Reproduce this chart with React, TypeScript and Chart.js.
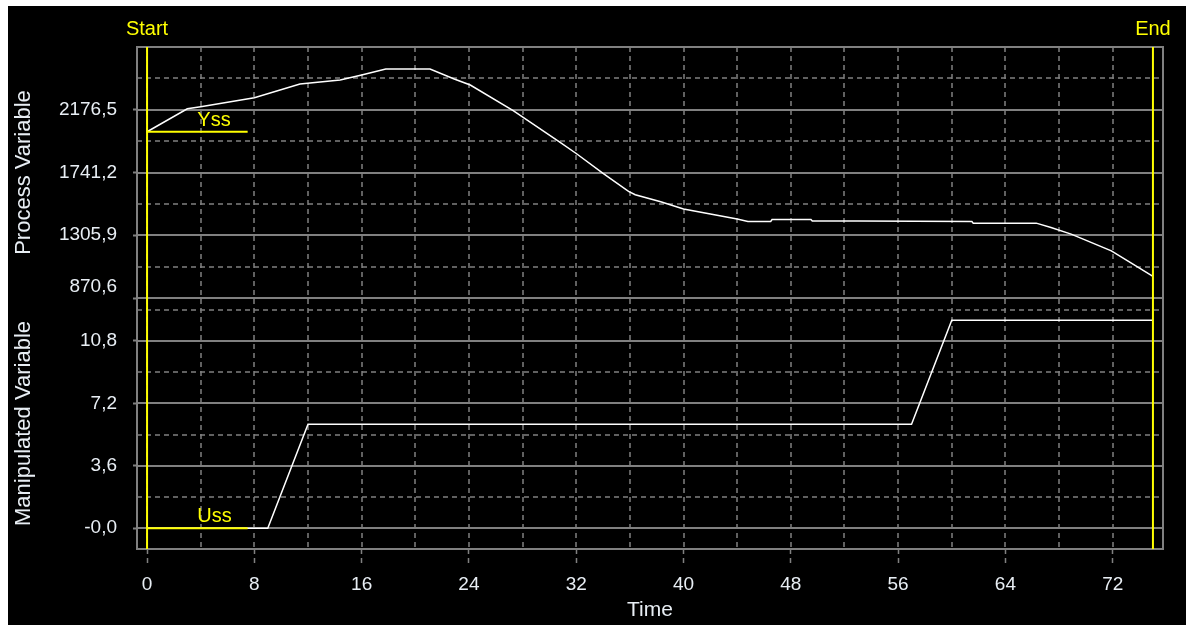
import React, { useEffect, useRef } from 'react';
import { Chart, registerables } from 'chart.js';

Chart.register(...registerables);

// ---- data ----
const TIME_PV = [0, 3, 4, 8, 11.4, 14.4, 16, 17.8, 21.1, 22.9, 24.1, 27.3, 30.8, 32, 34, 35.9, 36.4, 38.3, 40, 42, 44, 44.8, 46.5, 46.6, 49.5, 49.6, 53, 61.5, 61.6, 66.3, 67.4, 68.9, 69.8, 71.9, 73.3, 75];
const PV = [2024, 2183, 2197, 2260, 2355, 2383, 2417, 2459, 2459, 2390, 2348, 2170, 1950, 1873, 1735, 1610, 1587, 1538, 1488, 1453, 1418, 1402, 1402, 1415, 1415, 1404, 1404, 1401, 1390, 1390, 1360, 1314, 1279, 1198, 1117, 1020];

const TIME_MV = [0, 9, 12, 57, 60, 75];
const MV = [0, 0, 6, 6, 12, 12];

const YSS = 2024;
const USS = 0;
const SS_TIME = [0, 7.5];
const START_TIME = 0;
const END_TIME = 75;

const TIME_RANGE = [-0.75, 75.75];
const PV_RANGE = [870.6, 2611.8];
const MV_RANGE = [-1.2, 13.28];

const TIME_TICKS = [0, 8, 16, 24, 32, 40, 48, 56, 64, 72];
const TIME_TICK_LABELS = ['0', '8', '16', '24', '32', '40', '48', '56', '64', '72'];
const PV_TICKS = [870.6, 1305.9, 1741.2, 2176.5];
const PV_TICK_LABELS = ['870,6', '1305,9', '1741,2', '2176,5'];
const MV_TICKS = [0, 3.6, 7.2, 10.8];
const MV_TICK_LABELS = ['-0,0', '3,6', '7,2', '10,8'];

// ---- styles ----
const GRID = '#808080';
const YELLOW = '#ffff00';
const TEXT = '#e8eef4';
const FONT = "'Liberation Sans', Arial, sans-serif";

function minorValues(ticks: number[]) {
  const out: number[] = [];
  for (let i = 0; i < ticks.length - 1; i++) out.push((ticks[i] + ticks[i + 1]) / 2);
  const last = ticks[ticks.length - 1];
  out.push(last + (ticks[1] - ticks[0]) / 2);
  return out;
}

const gridPlugin = {
  id: 'dcsGrid',
  beforeDatasetsDraw(chart: any) {
    const { ctx, chartArea: a, scales } = chart;
    const x = scales.x, yP = scales.yPV, yM = scales.yMV;
    ctx.save();
    ctx.strokeStyle = GRID;
    // dashed verticals
    ctx.lineWidth = 1.5;
    ctx.setLineDash([5, 4]);
    const xs: number[] = [];
    for (let i = 0; i < TIME_TICKS.length; i++) {
      xs.push(TIME_TICKS[i]);
      if (i < TIME_TICKS.length - 1) xs.push((TIME_TICKS[i] + TIME_TICKS[i + 1]) / 2);
    }
    xs.forEach((v) => {
      const px = Math.round(x.getPixelForValue(v));
      ctx.beginPath();
      ctx.moveTo(px, a.top);
      ctx.lineTo(px, a.bottom);
      ctx.stroke();
    });
    // dashed minor horizontals
    const hline = (scale: any, v: number) => {
      const py = Math.round(scale.getPixelForValue(v));
      if (py < scale.top - 1 || py > scale.bottom + 1) return;
      ctx.beginPath();
      ctx.moveTo(a.left, py);
      ctx.lineTo(a.right, py);
      ctx.stroke();
    };
    minorValues(PV_TICKS).forEach((v) => hline(yP, v));
    minorValues(MV_TICKS).forEach((v) => hline(yM, v));
    // solid major horizontals
    ctx.setLineDash([]);
    ctx.lineWidth = 2;
    PV_TICKS.forEach((v) => hline(yP, v));
    MV_TICKS.forEach((v) => hline(yM, v));
    // frame + divider
    ctx.strokeRect(a.left, a.top, a.right - a.left, a.bottom - a.top);
    ctx.beginPath();
    ctx.moveTo(a.left, Math.round(yP.bottom));
    ctx.lineTo(a.right, Math.round(yP.bottom));
    ctx.stroke();
    ctx.restore();
  },
  afterDatasetsDraw(chart: any) {
    const { ctx, chartArea: a, scales } = chart;
    const x = scales.x, yP = scales.yPV, yM = scales.yMV;
    ctx.save();
    ctx.fillStyle = YELLOW;
    ctx.font = `20px ${FONT}`;
    ctx.textAlign = 'center';
    ctx.textBaseline = 'alphabetic';
    ctx.fillText('Start', x.getPixelForValue(START_TIME), a.top - 12);
    ctx.fillText('End', x.getPixelForValue(END_TIME), a.top - 12);
    ctx.textAlign = 'left';
    const mid = (SS_TIME[0] + SS_TIME[1]) / 2;
    ctx.fillText('Yss', x.getPixelForValue(mid), yP.getPixelForValue(YSS) - 6);
    ctx.fillText('Uss', x.getPixelForValue(mid), yM.getPixelForValue(USS) - 6);
    ctx.restore();
  },
};

function pts(xs: number[], ys: number[]) {
  return xs.map((t, i) => ({ x: t, y: ys[i] }));
}

export default function App() {
  const ref = useRef<HTMLCanvasElement | null>(null);

  useEffect(() => {
    if (!ref.current) return;
    const yellowLine = (data: any[], axis: string) => ({
      data,
      yAxisID: axis,
      borderColor: YELLOW,
      borderWidth: 2,
      pointRadius: 0,
      fill: false,
    });
    const tickFont = { family: FONT, size: 19 };
    const chart = new Chart(ref.current, {
      type: 'line',
      data: {
        datasets: [
          yellowLine([{ x: START_TIME, y: PV_RANGE[0] }, { x: START_TIME, y: PV_RANGE[1] }], 'yPV'),
          yellowLine([{ x: START_TIME, y: MV_RANGE[0] }, { x: START_TIME, y: MV_RANGE[1] }], 'yMV'),
          yellowLine([{ x: END_TIME, y: PV_RANGE[0] }, { x: END_TIME, y: PV_RANGE[1] }], 'yPV'),
          yellowLine([{ x: END_TIME, y: MV_RANGE[0] }, { x: END_TIME, y: MV_RANGE[1] }], 'yMV'),
          yellowLine(pts(SS_TIME, [YSS, YSS]), 'yPV'),
          yellowLine(pts(SS_TIME, [USS, USS]), 'yMV'),
          {
            data: pts(TIME_PV, PV),
            yAxisID: 'yPV',
            borderColor: '#ffffff',
            borderWidth: 1.5,
            pointRadius: 0,
            tension: 0,
          },
          {
            data: pts(TIME_MV, MV),
            yAxisID: 'yMV',
            borderColor: '#ffffff',
            borderWidth: 1.5,
            pointRadius: 0,
            tension: 0,
          },
        ],
      },
      options: {
        animation: false,
        responsive: false,
        devicePixelRatio: 1,
        layout: { padding: { top: 41, right: 23, bottom: 0, left: 0 } },
        plugins: { legend: { display: false }, tooltip: { enabled: false } },
        scales: {
          x: {
            type: 'linear',
            min: TIME_RANGE[0],
            max: TIME_RANGE[1],
            afterBuildTicks: (s: any) => {
              s.ticks = TIME_TICKS.map((v) => ({ value: v }));
            },
            afterFit: (s: any) => {
              s.height = 76;
            },
            grid: {
              drawOnChartArea: false,
              drawTicks: true,
              tickLength: 14,
              tickColor: GRID,
              tickWidth: 1.5,
              tickBorderDash: [5, 4],
            },
            border: { display: false },
            ticks: {
              color: TEXT,
              font: tickFont,
              padding: 10,
              maxRotation: 0,
              autoSkip: false,
              callback: (_v: any, i: number) => TIME_TICK_LABELS[i],
            },
            title: {
              display: true,
              text: 'Time',
              color: TEXT,
              font: { family: FONT, size: 21 },
              padding: { top: 0, bottom: 2 },
            },
          },
          yMV: {
            type: 'linear',
            position: 'left',
            stack: 'panels',
            stackWeight: 1,
            min: MV_RANGE[0],
            max: MV_RANGE[1],
            afterBuildTicks: (s: any) => {
              s.ticks = MV_TICKS.map((v) => ({ value: v }));
            },
            afterFit: (s: any) => {
              s.width = 129;
            },
            grid: { drawOnChartArea: false, drawTicks: true, tickLength: 4, tickColor: GRID, tickWidth: 2 },
            border: { display: false },
            ticks: {
              color: TEXT,
              font: tickFont,
              padding: 16,
              autoSkip: false,
              callback: (_v: any, i: number) => MV_TICK_LABELS[i],
            },
            title: {
              display: true,
              text: 'Manipulated Variable',
              color: TEXT,
              font: { family: FONT, size: 22 },
              padding: { top: 3, bottom: 0 },
            },
          },
          yPV: {
            type: 'linear',
            position: 'left',
            stack: 'panels',
            stackWeight: 1,
            min: PV_RANGE[0],
            max: PV_RANGE[1],
            afterBuildTicks: (s: any) => {
              s.ticks = PV_TICKS.map((v) => ({ value: v }));
            },
            afterFit: (s: any) => {
              s.width = 129;
            },
            grid: { drawOnChartArea: false, drawTicks: true, tickLength: 4, tickColor: GRID, tickWidth: 2 },
            border: { display: false },
            ticks: {
              color: TEXT,
              font: tickFont,
              padding: 16,
              autoSkip: false,
              callback: (_v: any, i: number) => (i === 0 ? [PV_TICK_LABELS[i], ''] : PV_TICK_LABELS[i]),
            },
            title: {
              display: true,
              text: 'Process Variable',
              color: TEXT,
              font: { family: FONT, size: 22 },
              padding: { top: 3, bottom: 0 },
            },
          },
        },
      } as any,
      plugins: [gridPlugin],
    });
    return () => chart.destroy();
  }, []);

  return (
    <div style={{ position: 'absolute', left: 8, top: 6, width: 1178, height: 619, background: '#000' }}>
      <canvas ref={ref} width={1178} height={619} style={{ display: 'block' }} />
    </div>
  );
}
